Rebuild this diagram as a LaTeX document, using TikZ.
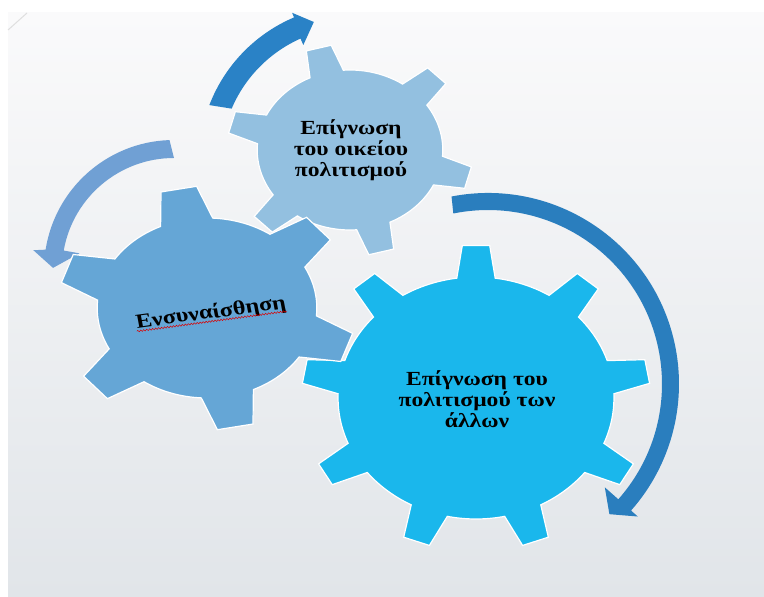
\documentclass[tikz,border=0pt]{standalone}
\usepackage{fontspec}
\setmainfont{Liberation Serif}
\usetikzlibrary{decorations.pathmorphing}

\definecolor{panelTop}{RGB}{250,250,251}
\definecolor{panelBottom}{RGB}{225,229,233}
\definecolor{gearBig}{RGB}{26,183,236}
\definecolor{gearMid}{RGB}{101,166,214}
\definecolor{gearSmall}{RGB}{147,192,224}
\definecolor{arrowTop}{RGB}{42,130,198}
\definecolor{arrowLeft}{RGB}{112,160,212}
\definecolor{arrowRight}{RGB}{42,126,190}

\tikzset{
  gear/.style={draw=white,line width=1.2pt,line join=miter},
  geartext/.style={font=\fontsize{20}{21}\selectfont\bfseries,align=center,
    text=black,inner sep=0pt,xscale=1.18},
  spell/.style={red!85!black,line width=.5pt,decorate,
    decoration={snake,amplitude=.8pt,segment length=3pt}},
}

% centre, xscale, teeth, first tooth, outer r, inner r, tip half angle, base half angle, colour
\newcommand{\gearwheel}[9]{%
  \begin{scope}[shift={#1},xscale=#2]
    \filldraw[gear,fill=#9] ({#4-#8}:#6)
      \foreach \k in {1,...,#3}{
        -- ({#4+(\k-1)*360/#3-#7}:#5) -- ({#4+(\k-1)*360/#3+#7}:#5)
        -- ({#4+(\k-1)*360/#3+#8}:#6)
        arc[start angle={#4+(\k-1)*360/#3+#8},end angle={#4+\k*360/#3-#8},radius=#6]
      } -- cycle;
  \end{scope}}

\begin{document}
\begin{tikzpicture}[x=1pt,y=1pt]
  \fill[white] (0,0) rectangle (764,597);
  \shade[top color=panelTop,bottom color=panelBottom] (8,0) rectangle (764,584);
  \draw[gray!25,line width=1pt] (8,567) -- (27,584);

  \begin{scope}[shift={(355,436)}]
    \fill[arrowTop] (159:156) arc[start angle=159,end angle=113,radius=156]
      -- (113:161) -- (106.5:145) -- (114:127) -- (114:134)
      arc[start angle=114,end angle=157,radius=134] -- cycle;
  \end{scope}
  \begin{scope}[shift={(174,327)}]
    \fill[arrowLeft] (92:130) arc[start angle=92,end angle=171,radius=130]
      -- (172:142) -- (179:121) -- (170:96) -- (170:112)
      arc[start angle=170,end angle=90,radius=112] -- cycle;
  \end{scope}
  \begin{scope}[shift={(488,213)}]
    \fill[arrowRight] (101:191) arc[start angle=101,end angle=-41.5,radius=191]
      -- (-41.5:200) -- (-47:178) -- (-41.5:156) -- (-41.5:174)
      arc[start angle=-41.5,end angle=101.5,radius=174] -- cycle;
  \end{scope}

  \gearwheel{(350,447)}{1.16}{6}{104.8}{106}{80}{6}{10.7}{gearSmall}
  \gearwheel{(476,199)}{1.14}{9}{90}{153}{121}{4.5}{8}{gearBig}
  \gearwheel{(207,289)}{1.22}{6}{101}{122}{90}{7}{14}{gearMid}

  \node[geartext] (own) at (351,447) {Επίγνωση\\του οικείου\\πολιτισμού};
  \node[geartext] (others) at (477,198) {Επίγνωση του\\πολιτισμού των\\άλλων};
  \node[geartext,rotate=9,xscale=1.03] (empathy) at (211,284) {Ενσυναίσθηση};
  \draw[spell] ([yshift=-3pt]empathy.base west) -- ([yshift=-3pt]empathy.base east);
\end{tikzpicture}
\end{document}
